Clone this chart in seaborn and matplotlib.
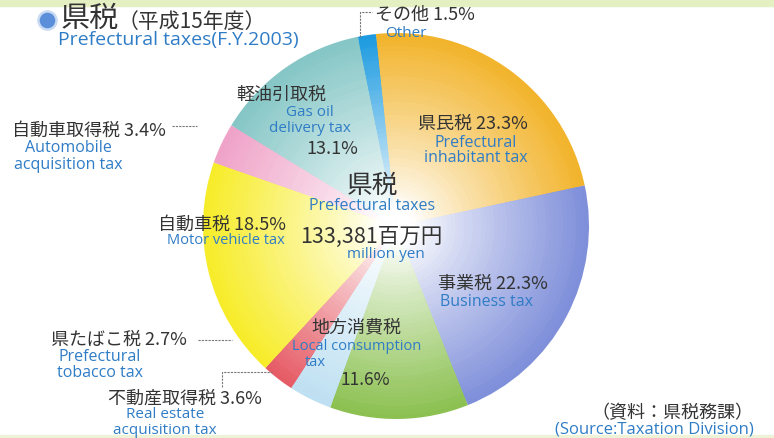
import numpy as np
import matplotlib.pyplot as plt
import seaborn as sns

# データ（平成15年度 県税）
labels_ja = ["県民税", "事業税", "地方消費税", "不動産取得税", "県たばこ税",
             "自動車税", "自動車取得税", "軽油引取税", "その他"]
labels_en = ["Prefectural inhabitant tax", "Business tax", "Local consumption tax",
             "Real estate acquisition tax", "Prefectural tobacco tax",
             "Motor vehicle tax", "Automobile acquisition tax",
             "Gas oil delivery tax", "Other"]
shares = [23.3, 22.3, 11.6, 3.6, 2.7, 18.5, 3.4, 13.1, 1.5]
total_label = "133,381百万円"
base_colors = ["#F2B42C", "#7F8FDA", "#8CC152", "#BFE0F2", "#E65C66",
               "#F7EC2A", "#EFA3C8", "#86C6C6", "#1E9BE0"]

sns.set_theme(style="white")
JP = ["Noto Sans CJK JP", "DejaVu Sans"]
EN = ["Open Sans", "DejaVu Sans"]
plt.rcParams["font.family"] = JP

W, H = 774, 439
BLUE = "#2F7CC6"
DARK = "#333333"

fig = plt.figure(figsize=(W / 100, H / 100), dpi=100)
ax = fig.add_axes([0, 0, 1, 1])

cx, cy, R = 396, H - 227, 193

# 放射状グラデーション：外側から内側へ円を重ねる
palettes = [sns.blend_palette(["white", c], 60) for c in base_colors]
for r in np.linspace(1.0, 0.02, 45):
    t = np.clip((r - 0.1) / 0.9, 0, 1) ** 0.85
    idx = int(round(t * 59))
    cols = [p[idx] for p in palettes]
    ax.pie(shares, colors=cols, startangle=96, counterclock=False,
           center=(cx, cy), radius=R * r, wedgeprops=dict(linewidth=0))

ax.set_xlim(0, W)
ax.set_ylim(0, H)
ax.axis("off")


def txt(x, y, s, size, color=DARK, fam=JP, ha="left"):
    ax.text(x, H - y, s, fontsize=size, color=color, family=fam,
            ha=ha, va="center", zorder=6)


def lead(xs, ys):
    ax.plot(xs, [H - v for v in ys], color="#777777", lw=0.8, ls=(0, (2, 1)))


# タイトル
ax.scatter([47], [H - 21], s=170, color="#5B8FD9", edgecolor="#C9DAF3", lw=1.8, zorder=5)
txt(61, 19, "県税", 21)
txt(118, 22, "（平成15年度）", 15)
txt(58, 40, "Prefectural taxes(F.Y.2003)", 14, BLUE, EN)

# ラベル
txt(375, 15, f"その他 {shares[8]}%", 13)
txt(406, 33, "Other", 11, BLUE, EN, "center")
lead([360, 360, 372], [38, 13, 13])

txt(418, 124, f"県民税 {shares[0]}%", 13)
txt(476, 143, "Prefectural", 11.5, BLUE, EN, "center")
txt(476, 158, "inhabitant tax", 11.5, BLUE, EN, "center")

txt(438, 284, f"事業税 {shares[1]}%", 13)
txt(487, 302, "Business tax", 11.5, BLUE, EN, "center")

txt(356, 327, "地方消費税", 13, ha="center")
txt(292, 347, "Local consumption", 10.5, BLUE, EN)
txt(305, 363, "tax", 10.5, BLUE, EN)
txt(340, 380, f"{shares[2]}%", 12.5)

txt(108, 399, f"不動産取得税 {shares[3]}%", 13)
txt(165, 415, "Real estate", 11, BLUE, EN, "center")
txt(165, 431, "acquisition tax", 11, BLUE, EN, "center")
lead([222, 222, 272], [388, 373, 373])

txt(51, 340, f"県たばこ税 {shares[4]}%", 13)
txt(100, 357, "Prefectural", 11.5, BLUE, EN, "center")
txt(100, 373, "tobacco tax", 11.5, BLUE, EN, "center")
lead([198, 232], [341, 341])

txt(286, 225, f"自動車税 {shares[5]}%", 13, ha="right")
txt(226, 241, "Motor vehicle tax", 10.5, BLUE, EN, "center")

txt(12, 131, f"自動車取得税 {shares[6]}%", 13)
txt(68, 148, "Automobile", 11.5, BLUE, EN, "center")
txt(68, 165, "acquisition tax", 11.5, BLUE, EN, "center")
lead([172, 197], [127, 127])

txt(281, 95, "軽油引取税", 13, ha="center")
txt(310, 113, "Gas oil", 11, BLUE, EN, "center")
txt(310, 128, "delivery tax", 11, BLUE, EN, "center")
txt(332, 149, f"{shares[7]}%", 13, ha="center")

# 中央
txt(372, 186, "県税", 18.5, ha="center")
txt(372, 206, "Prefectural taxes", 11.5, BLUE, EN, "center")
txt(371, 237, total_label, 15.5, ha="center")
txt(386, 254, "million yen", 11, BLUE, EN, "center")

# 出典
txt(672, 413, "（資料：県税務課）", 13, ha="center")
txt(654, 430, "(Source:Taxation Division)", 12, BLUE, EN, "center")

# 上下の淡い帯
fig.patches.append(plt.Rectangle((0, 0.985), 1, 0.015, transform=fig.transFigure,
                                 color="#E4EFC2", zorder=-1))
fig.patches.append(plt.Rectangle((0, 0), 1, 0.006, transform=fig.transFigure,
                                 color="#EEF3D8", zorder=-1))

fig.savefig("out.png", dpi=100)
